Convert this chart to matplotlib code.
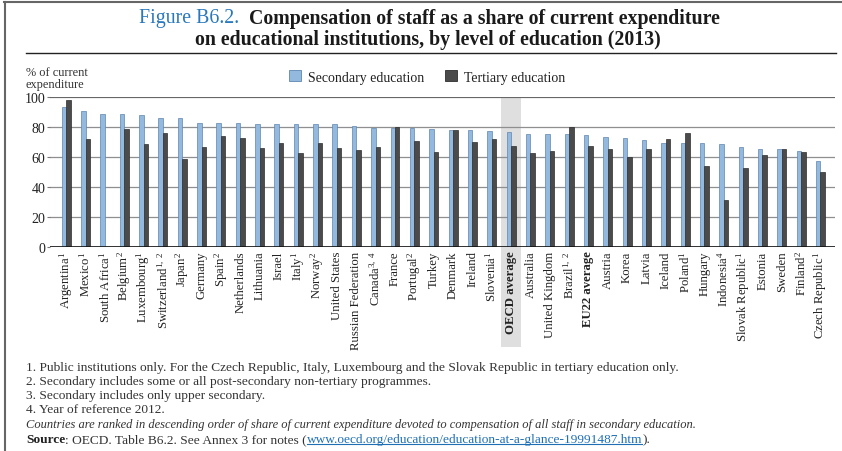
import numpy as np
import matplotlib.pyplot as plt
from matplotlib.lines import Line2D
from matplotlib.patches import Rectangle
from matplotlib.transforms import blended_transform_factory

plt.rcParams['font.family'] = ['Liberation Serif', 'DejaVu Serif']
plt.rcParams['mathtext.fontset'] = 'custom'
plt.rcParams['mathtext.rm'] = 'Liberation Serif'
plt.rcParams['mathtext.it'] = 'Liberation Serif:italic'
plt.rcParams['mathtext.bf'] = 'Liberation Serif:bold'

# dane
countries = ["Argentina", "Mexico", "South Africa", "Belgium", "Luxembourg", "Switzerland",
             "Japan", "Germany", "Spain", "Netherlands", "Lithuania", "Israel", "Italy",
             "Norway", "United States", "Russian Federation", "Canada", "France", "Portugal",
             "Turkey", "Denmark", "Ireland", "Slovenia", "OECD average", "Australia",
             "United Kingdom", "Brazil", "EU22 average", "Austria", "Korea", "Latvia",
             "Iceland", "Poland", "Hungary", "Indonesia", "Slovak Republic", "Estonia",
             "Sweden", "Finland", "Czech Republic"]
notes = ["1", "1", "1", "2", "1", "1,\\ 2", "2", "", "2", "", "", "", "1", "2", "", "",
         "3,\\ 4", "", "2", "", "", "", "1", "", "", "", "1,\\ 2", "", "", "", "", "",
         "1", "", "4", "1", "", "", "2", "1"]
secondary = [93.3, 90.7, 88.4, 88.4, 87.8, 86.2, 85.8, 82.9, 82.7, 82.7, 82.2, 82.0, 81.8,
             81.8, 81.8, 80.9, 79.6, 79.6, 79.6, 78.4, 78.2, 78.2, 77.3, 76.7, 75.3, 75.3,
             75.1, 74.7, 73.3, 72.7, 71.1, 69.6, 69.6, 69.3, 68.7, 66.7, 65.6, 65.1, 64.0,
             57.3]
tertiary = [98.0, 72.2, np.nan, 79.0, 68.7, 76.2, 59.0, 66.9, 74.0, 72.4, 65.8, 69.3, 62.4,
            69.1, 65.8, 64.7, 66.7, 80.2, 70.7, 63.1, 78.2, 70.2, 72.0, 67.1, 62.9, 64.2,
            80.2, 67.1, 65.6, 59.8, 65.6, 72.0, 76.2, 54.0, 31.3, 52.7, 61.3, 65.1, 63.3,
            50.2]
bold_labels = ["OECD average", "EU22 average"]

footnotes = [
    "1. Public institutions only. For the Czech Republic, Italy, Luxembourg and the Slovak Republic in tertiary education only.",
    "2. Secondary includes some or all post-secondary non-tertiary programmes.",
    "3. Secondary includes only upper secondary.",
    "4. Year of reference 2012.",
]
ranking_note = "Countries are ranked in descending order of share of current expenditure devoted to compensation of all staff in secondary education."
url = "www.oecd.org/education/education-at-a-glance-19991487.htm"

BLUE = "#93b9de"
BLUE_EDGE = "#5f86b0"
DARK = "#4b4b4b"
DARK_EDGE = "#2e2e2e"

W, H = 842, 452
fig = plt.figure(figsize=(W / 100, H / 100), dpi=100)


def fx(px):
    return px / W


def fy(py):
    return 1 - py / H


ax = fig.add_axes([fx(50), fy(248), fx(835) - fx(50), (248 - 98) / H])

x = np.arange(len(countries))
bw = 0.232
ax.bar(x - bw / 2, secondary, bw, color=BLUE, edgecolor=BLUE_EDGE, linewidth=0.5, zorder=2)
ax.bar(x + bw / 2, tertiary, bw, color=DARK, edgecolor=DARK_EDGE, linewidth=0.5, zorder=2)

# szare tło dla średniej OECD
i_oecd = countries.index("OECD average")
trans = blended_transform_factory(ax.transData, ax.transAxes)
ax.add_patch(Rectangle((i_oecd - 0.54, -0.667), 1.08, 1.667, transform=trans,
                       facecolor="#dfdfdf", edgecolor="none", clip_on=False, zorder=0.2))

ax.set_xlim(-0.838, 39.75)
ax.set_ylim(0, 100)
ax.set_yticks(range(0, 101, 20))
ax.tick_params(axis="y", labelsize=10, length=2.5, width=0.8, color="#777", pad=1,
               labelcolor="#222")
labels = [c + (r"$^{" + n + "}$" if n else "") for c, n in zip(countries, notes)]
ax.set_xticks(x)
ax.set_xticklabels(labels, rotation=90, fontsize=9.2, color="#222")
ax.tick_params(axis="x", length=0, pad=2.5)
for t in ax.get_xticklabels():
    if t.get_text() in bold_labels:
        t.set_fontweight("bold")

for s in ax.spines.values():
    s.set_visible(False)
ax.set_axisbelow(True)
ax.yaxis.grid(True, color="#8f8f8f", linewidth=0.9)
ax.axhline(100, color="#666", linewidth=1.4, zorder=1)
ax.axhline(0, color="#111", linewidth=1.2, zorder=3)

fig.text(fx(26), fy(79), "% of current\nexpenditure", fontsize=8.9, color="#333",
         va="center", ha="left", linespacing=0.95)

handles = [Rectangle((0, 0), 1, 1, facecolor=BLUE, edgecolor=BLUE_EDGE, linewidth=0.6),
           Rectangle((0, 0), 1, 1, facecolor=DARK, edgecolor=DARK_EDGE, linewidth=0.6)]
fig.legend(handles, ["Secondary education", "Tertiary education"], loc="center left",
           bbox_to_anchor=(fx(289), fy(78)), ncol=2, frameon=False, fontsize=10,
           handlelength=0.85, handleheight=0.85, handletextpad=0.5, columnspacing=1.5,
           borderaxespad=0, borderpad=0, labelcolor="#222")

renderer = fig.canvas.get_renderer()


def draw_run(pieces, px, py, center=False, underline=None):
    texts = []
    cur = fx(px)
    for s, kw in pieces:
        t = fig.text(cur, fy(py), s, va="center", ha="left", **kw)
        bb = t.get_window_extent(renderer)
        cur = bb.x1 / W
        texts.append(t)
    if center:
        total = cur - fx(px)
        for t in texts:
            xx, yy = t.get_position()
            t.set_position((xx - total / 2, yy))
    if underline is not None:
        bb = texts[underline].get_window_extent(renderer)
        fig.add_artist(Line2D([bb.x0 / W, bb.x1 / W], [(bb.y0 + 1.5) / H] * 2,
                              color="#1f6fb5", linewidth=0.8))
    return texts


# tytuł
draw_run([("Figure B6.2.", dict(color="#2a78bd", fontsize=14.3)),
          ("  Compensation of staff as a share of current expenditure",
           dict(color="#1a1a1a", fontsize=14.3, fontweight="bold"))], 429, 19, center=True)
draw_run([("on educational institutions, by level of education (2013)",
           dict(color="#1a1a1a", fontsize=14.3, fontweight="bold"))], 428, 40.5, center=True)

# przypisy
note_y = [368.5, 382.5, 396, 410]
for txt, yy in zip(footnotes, note_y):
    fig.text(fx(26), fy(yy), txt, fontsize=9.65, color="#333", va="center", ha="left")
fig.text(fx(26), fy(425), ranking_note, fontsize=9.0, color="#333", va="center", ha="left",
         style="italic")
draw_run([("Source", dict(color="#222", fontsize=9.65, fontweight="bold")),
          (": OECD. Table B6.2. See Annex 3 for notes (", dict(color="#333", fontsize=9.65)),
          (url, dict(color="#1f6fb5", fontsize=9.65)),
          (").", dict(color="#333", fontsize=9.65))], 26, 440, underline=2)

# ramka
fig.add_artist(Line2D([fx(4.5), fx(4.5)], [fy(3), 0], color="#666", linewidth=1.5))
fig.add_artist(Line2D([fx(4), 1], [fy(3), fy(3)], color="#666", linewidth=1.5))
fig.add_artist(Line2D([fx(26), fx(836)], [fy(53.5), fy(53.5)], color="#222", linewidth=1))

fig.savefig("out.png", dpi=100)
